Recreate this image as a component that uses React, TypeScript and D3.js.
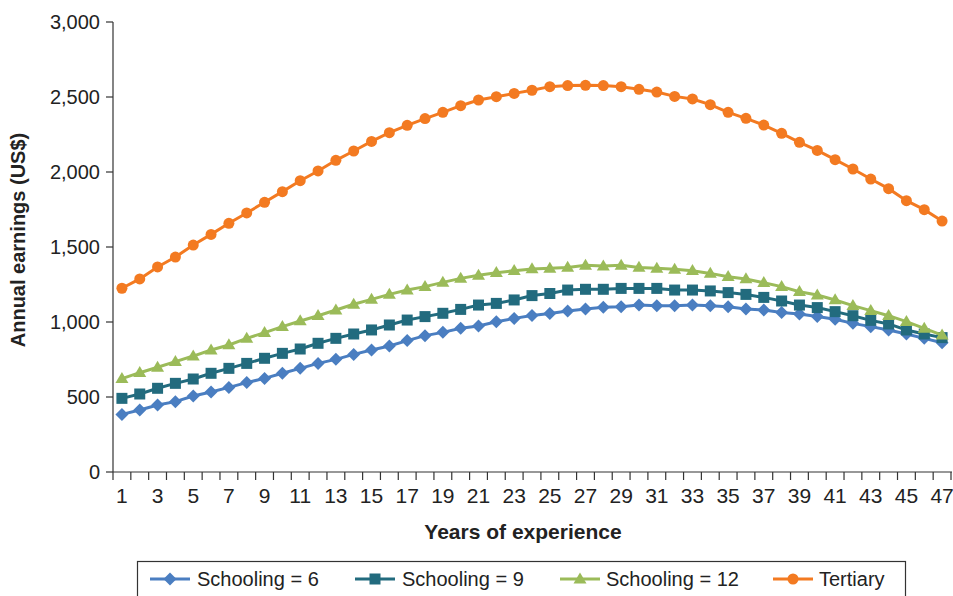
import React from "react";
import * as d3 from "d3";

const years: number[] = Array.from({ length: 47 }, (_, i) => i + 1);

const schooling6: number[] = [
  384, 413, 447, 469, 507, 533, 564, 596, 624, 658,
  691, 724, 751, 784, 813, 840, 876, 909, 931, 958,
  973, 1002, 1024, 1044, 1056, 1073, 1087, 1098, 1102, 1113,
  1109, 1109, 1113, 1109, 1102, 1087, 1080, 1064, 1053, 1036,
  1018, 991, 969, 947, 920, 891, 862,
];

const schooling9: number[] = [
  491, 520, 558, 591, 620, 658, 691, 724, 758, 791,
  820, 858, 891, 920, 947, 980, 1013, 1036, 1058, 1084,
  1113, 1124, 1147, 1176, 1190, 1213, 1218, 1218, 1224, 1224,
  1224, 1213, 1213, 1207, 1196, 1184, 1164, 1140, 1113, 1096,
  1069, 1042, 1011, 987, 947, 920, 896,
];

const schooling12: number[] = [
  622, 662, 698, 736, 773, 813, 847, 891, 929, 969,
  1007, 1042, 1080, 1118, 1151, 1184, 1213, 1236, 1264, 1291,
  1311, 1329, 1342, 1354, 1358, 1364, 1378, 1373, 1378, 1364,
  1358, 1351, 1342, 1324, 1302, 1287, 1262, 1236, 1202, 1180,
  1147, 1109, 1076, 1042, 1002, 958, 913,
];

const tertiary: number[] = [
  1225, 1287, 1367, 1433, 1513, 1584, 1658, 1727, 1798, 1869,
  1942, 2007, 2078, 2140, 2204, 2262, 2311, 2356, 2398, 2442,
  2480, 2502, 2524, 2545, 2569, 2576, 2578, 2576, 2569, 2551,
  2533, 2504, 2487, 2449, 2398, 2358, 2313, 2258, 2198, 2144,
  2082, 2020, 1953, 1889, 1809, 1749, 1673,
];

const seriesNames: string[] = ["Schooling = 6", "Schooling = 9", "Schooling = 12", "Tertiary"];
const seriesColors: string[] = ["#4a7ec1", "#226b7e", "#9bbb59", "#f37a21"];
const seriesShapes: string[] = ["diamond", "square", "triangle", "circle"];
const yTicks: number[] = [0, 500, 1000, 1500, 2000, 2500, 3000];

const W = 953;
const H = 596;
const left = 113;
const right = 951;
const top = 22;
const bottom = 472;
const FONT = "'Liberation Sans', Arial, Helvetica, sans-serif";

function Marker({ shape, x, y, color }: { shape: string; x: number; y: number; color: string }) {
  if (shape === "diamond") {
    const r = 6.5;
    return <path d={`M${x},${y - r}L${x + r},${y}L${x},${y + r}L${x - r},${y}Z`} fill={color} />;
  }
  if (shape === "square") {
    const s = 11;
    return <rect x={x - s / 2} y={y - s / 2} width={s} height={s} fill={color} />;
  }
  if (shape === "triangle") {
    const w = 13;
    const h = 11;
    return <path d={`M${x},${y - h * 0.6}L${x + w / 2},${y + h * 0.4}L${x - w / 2},${y + h * 0.4}Z`} fill={color} />;
  }
  return <circle cx={x} cy={y} r={5.5} fill={color} />;
}

export default function App() {
  const x = d3.scaleBand<number>().domain(years).range([left, right]);
  const y = d3.scaleLinear().domain([0, 3000]).range([bottom, top]);
  const cx = (d: number) => (x(d) as number) + x.bandwidth() / 2;
  const allSeries = [schooling6, schooling9, schooling12, tertiary];
  const line = d3
    .line<number>()
    .x((_, i) => cx(years[i]))
    .y((v) => y(v));

  const boundaries = years.map((d) => x(d) as number).concat([right]);

  const legendItems = [
    { lx: 150, tx: 197 },
    { lx: 355, tx: 402 },
    { lx: 560, tx: 606 },
    { lx: 773, tx: 819 },
  ];

  return (
    <svg
      width={W}
      height={H}
      style={{ position: "absolute", left: 0, top: 0, background: "#fff" }}
      fontFamily={FONT}
    >
      <rect x={0} y={0} width={W} height={H} fill="#fff" />
      {/* y axis */}
      <line x1={left} x2={left} y1={top} y2={bottom} stroke="#333" strokeWidth={1.2} />
      {yTicks.map((t) => (
        <g key={t}>
          <line x1={left - 7} x2={left} y1={y(t)} y2={y(t)} stroke="#333" strokeWidth={1.2} />
          <text x={100} y={y(t)} dy="0.36em" textAnchor="end" fontSize={20} fill="#222">
            {d3.format(",")(t)}
          </text>
        </g>
      ))}
      <text
        transform={`translate(25,240) rotate(-90)`}
        textAnchor="middle"
        fontSize={20}
        fontWeight="bold"
        fill="#222"
      >
        Annual earnings (US$)
      </text>
      {/* x axis */}
      <line x1={left} x2={right + 1} y1={bottom} y2={bottom} stroke="#333" strokeWidth={1.2} />
      {boundaries.map((b, i) => (
        <line key={i} x1={b} x2={b} y1={bottom} y2={bottom + 8} stroke="#333" strokeWidth={1.2} />
      ))}
      {years
        .filter((d) => d % 2 === 1)
        .map((d) => (
          <text key={d} x={cx(d)} y={503} textAnchor="middle" fontSize={21} fill="#222">
            {d}
          </text>
        ))}
      <text x={523} y={539} textAnchor="middle" fontSize={21} fontWeight="bold" fill="#222">
        Years of experience
      </text>
      {/* series */}
      {allSeries.map((s, si) => (
        <g key={si}>
          <path d={line(s) || ""} fill="none" stroke={seriesColors[si]} strokeWidth={3} />
          {s.map((v, i) => (
            <Marker key={i} shape={seriesShapes[si]} x={cx(years[i])} y={y(v)} color={seriesColors[si]} />
          ))}
        </g>
      ))}
      {/* legend */}
      <rect x={137.5} y={561.5} width={768} height={45} fill="#fff" stroke="#333" strokeWidth={1.2} />
      {legendItems.map((it, i) => (
        <g key={i}>
          <line x1={it.lx} x2={it.lx + 40} y1={579} y2={579} stroke={seriesColors[i]} strokeWidth={3} />
          <Marker shape={seriesShapes[i]} x={it.lx + 20} y={579} color={seriesColors[i]} />
          <text x={it.tx} y={579} dy="0.36em" fontSize={20} fill="#222">
            {seriesNames[i]}
          </text>
        </g>
      ))}
    </svg>
  );
}
